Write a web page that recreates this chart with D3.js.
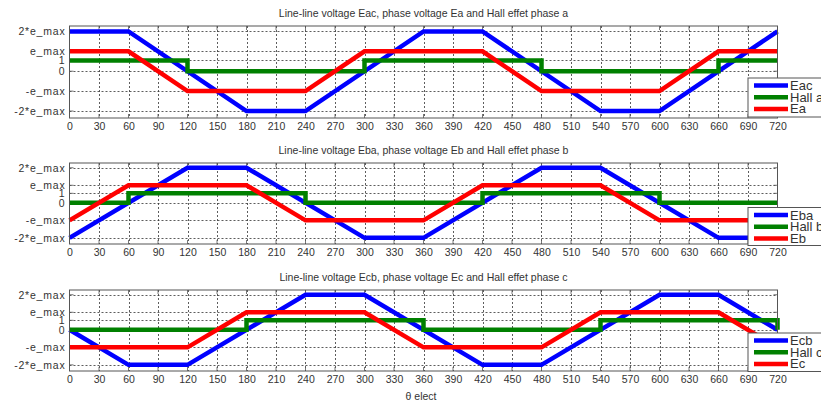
<!DOCTYPE html>
<html><head><meta charset="utf-8">
<script src="https://cdn.jsdelivr.net/npm/d3@7"></script>
<style>
html,body{margin:0;padding:0;background:#fff;overflow:hidden;}
svg text{font-family:"Liberation Sans",Arial,sans-serif;fill:#333;}
</style></head>
<body><svg id="c" width="821" height="405"></svg>
<script>
// ---- data ----
const E_MAX = 1.85;
const xTickValues = [0,30,60,90,120,150,180,210,240,270,300,330,360,390,420,450,480,510,540,570,600,630,660,690,720];
const yTickValues = [-2*E_MAX, -E_MAX, 0, 1, E_MAX, 2*E_MAX];
const yTickLabels = ["-2*e_max", "-e_max", "0", "1", "e_max", "2*e_max"];

const titles = [
  "Line-line voltage Eac, phase voltage Ea and Hall effet phase a",
  "Line-line voltage Eba, phase voltage Eb and Hall effet phase b",
  "Line-line voltage Ecb, phase voltage Ec and Hall effet phase c"
];
const legendNames = [["Eac","Hall a","Ea"],["Eba","Hall b","Eb"],["Ecb","Hall c","Ec"]];

// line-line voltages (in units of e_max)
const eacX = [0,60,180,240,360,420,540,600,720];
const eacY = [2,2,-2,-2,2,2,-2,-2,2];
const ebaX = [0,120,180,300,360,480,540,660,720];
const ebaY = [-2,2,2,-2,-2,2,2,-2,-2];
const ecbX = [0,60,120,240,300,420,480,600,660,720];
const ecbY = [0,-2,-2,2,2,-2,-2,2,2,0];
// hall signals (absolute)
const hallAX = [0,120,120,300,300,480,480,660,660,720];
const hallAY = [1,1,0,0,1,1,0,0,1,1];
const hallBX = [0,60,60,240,240,420,420,600,600,720];
const hallBY = [0,0,1,1,0,0,1,1,0,0];
const hallCX = [0,180,180,360,360,540,540,720,720];
const hallCY = [0,0,1,1,0,0,1,1,0];
// phase voltages (in units of e_max)
const eaX = [0,60,120,240,300,420,480,600,660,720];
const eaY = [1,1,-1,-1,1,1,-1,-1,1,1];
const ebX = [0,60,180,240,360,420,540,600,720];
const ebY = [-1,1,1,-1,-1,1,1,-1,-1];
const ecX = [0,120,180,300,360,480,540,660,720];
const ecY = [-1,-1,1,1,-1,-1,1,1,-1];

const colors = ["#0000ff","#008000","#ff0000"];

const panels = [
  {top:26, bottom:118, llX:eacX, llY:eacY, hX:hallAX, hY:hallAY, pX:eaX, pY:eaY, leg:{y:78, h:39}},
  {top:163, bottom:244, llX:ebaX, llY:ebaY, hX:hallBX, hY:hallBY, pX:ebX, pY:ebY, leg:{y:207.5, h:38}},
  {top:290, bottom:371, llX:ecbX, llY:ecbY, hX:hallCX, hY:hallCY, pX:ecX, pY:ecY, leg:{y:333, h:38.5}}
];

const svg = d3.select("#c");
const left = 69.5, right = 777.5;
const yDomain = [-2.35*E_MAX, 2.27*E_MAX];

panels.forEach((p, i) => {
  const x = d3.scaleLinear().domain([0,720]).range([left,right]);
  const y = d3.scaleLinear().domain(yDomain).range([p.bottom,p.top]);
  const g = svg.append("g");

  // grid
  g.append("g").selectAll("line").data(xTickValues.slice(1,-1)).join("line")
    .attr("x1", d=>Math.round(x(d))+0.5).attr("x2", d=>Math.round(x(d))+0.5)
    .attr("y1", p.top).attr("y2", p.bottom)
    .attr("stroke","#333").attr("stroke-width",0.8).attr("stroke-dasharray","2,2");
  g.append("g").selectAll("line").data(yTickValues).join("line")
    .attr("y1", d=>Math.round(y(d))+0.5).attr("y2", d=>Math.round(y(d))+0.5)
    .attr("x1", left).attr("x2", right)
    .attr("stroke","#333").attr("stroke-width",0.8).attr("stroke-dasharray","2,2");

  // axes
  const xAxis = d3.axisBottom(x).tickValues(xTickValues).tickSize(0).tickPadding(5).tickFormat(d3.format("d"));
  const gx = g.append("g").attr("transform",`translate(0,${p.bottom})`).call(xAxis);
  gx.select(".domain").remove();
  gx.selectAll("text").attr("font-size","10.5px").attr("fill","#333").attr("font-family","'Liberation Sans',Arial,sans-serif");

  const yAxis = d3.axisLeft(y).tickValues(yTickValues).tickSize(0).tickPadding(4)
    .tickFormat((d,k)=>yTickLabels[k]);
  const gy = g.append("g").attr("transform",`translate(${left},0)`).call(yAxis);
  gy.select(".domain").remove();
  gy.selectAll("text").attr("font-size","10.5px").attr("letter-spacing","0.8px").attr("fill","#333").attr("font-family","'Liberation Sans',Arial,sans-serif");

  // small inner ticks
  g.append("g").selectAll("line").data(xTickValues).join("line")
    .attr("x1", d=>x(d)).attr("x2", d=>x(d)).attr("y1", p.bottom).attr("y2", p.bottom-4)
    .attr("stroke","#555").attr("stroke-width",0.8);
  g.append("g").selectAll("line").data(xTickValues).join("line")
    .attr("x1", d=>x(d)).attr("x2", d=>x(d)).attr("y1", p.top).attr("y2", p.top+4)
    .attr("stroke","#555").attr("stroke-width",0.8);
  g.append("g").selectAll("line").data(yTickValues).join("line")
    .attr("y1", d=>y(d)).attr("y2", d=>y(d)).attr("x1", left).attr("x2", left+4)
    .attr("stroke","#555").attr("stroke-width",0.8);
  g.append("g").selectAll("line").data(yTickValues).join("line")
    .attr("y1", d=>y(d)).attr("y2", d=>y(d)).attr("x1", right).attr("x2", right-4)
    .attr("stroke","#555").attr("stroke-width",0.8);

  // title
  g.append("text").attr("x",(left+right)/2).attr("y",p.top-9).attr("text-anchor","middle")
    .attr("font-size","10.5px").text(titles[i]);

  // series
  const line = d3.line().x(d=>x(d[0])).y(d=>y(d[1]));
  const series = [
    p.llX.map((v,k)=>[v, p.llY[k]*E_MAX]),
    p.hX.map((v,k)=>[v, p.hY[k]]),
    p.pX.map((v,k)=>[v, p.pY[k]*E_MAX])
  ];
  series.forEach((s,k)=>{
    g.append("path").attr("d", line(s)).attr("fill","none")
      .attr("stroke", colors[k]).attr("stroke-width",4.5)
      .attr("stroke-linejoin","miter").attr("stroke-linecap","butt");
  });

  // box
  g.append("rect").attr("x",left).attr("y",p.top).attr("width",right-left).attr("height",p.bottom-p.top)
    .attr("fill","none").attr("stroke","#555").attr("stroke-width",1);

  // legend
  const lg = g.append("g").attr("transform",`translate(748,${p.leg.y})`);
  lg.append("rect").attr("x",0).attr("y",0).attr("width",90).attr("height",p.leg.h)
    .attr("fill","#fff").attr("stroke","#555").attr("stroke-width",1);
  legendNames[i].forEach((name,k)=>{
    const yy = 7.5 + k*11.7;
    lg.append("line").attr("x1",6).attr("x2",40).attr("y1",yy).attr("y2",yy)
      .attr("stroke",colors[k]).attr("stroke-width",4.5);
    lg.append("text").attr("x",42).attr("y",yy+4.5).attr("font-size","13px").text(name);
  });
});

svg.append("text").attr("x",421).attr("y",400).attr("text-anchor","middle")
  .attr("font-size","10.5px").text("θ elect");
</script>
</body></html>
